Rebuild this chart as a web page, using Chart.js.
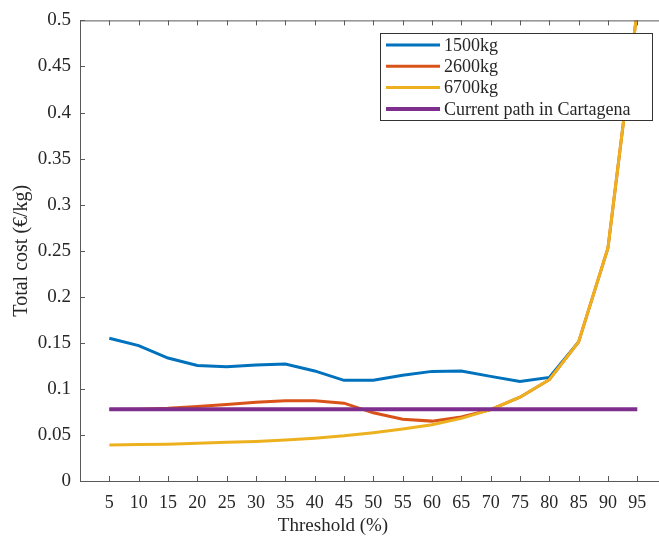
<!DOCTYPE html>
<html>
<head>
<meta charset="utf-8">
<script src="https://cdn.jsdelivr.net/npm/chart.js@4"></script>
<style>
	html, body { margin: 0; padding: 0; background: #fff; }
	#wrap { width: 659px; height: 536px; }
</style>
</head>
<body>
<div id="wrap"><canvas id="chartContainer" width="659" height="536"></canvas></div>
<script>
const thresholds = [5, 10, 15, 20, 25, 30, 35, 40, 45, 50, 55, 60, 65, 70, 75, 80, 85, 90, 95];
// 1500kg is hidden under the 6700kg line past 85%
const cost1500 = [0.155, 0.147, 0.1335, 0.1255, 0.124, 0.126, 0.127, 0.1195, 0.1093, 0.1095, 0.1147, 0.119, 0.1195, 0.1136, 0.108, 0.1125, 0.151, null, null];
const cost2600 = [0.0775, 0.078, 0.079, 0.081, 0.083, 0.0855, 0.087, 0.087, 0.0845, 0.074, 0.067, 0.065, 0.0695, 0.0775, 0.091, 0.110, 0.151, 0.253, 0.512];
const cost6700 = [0.039, 0.0395, 0.040, 0.041, 0.042, 0.043, 0.0445, 0.0465, 0.049, 0.0525, 0.0565, 0.061, 0.068, 0.0775, 0.091, 0.110, 0.151, 0.253, 0.512];
const currentPath = [0.078, 0.078, 0.078, 0.078, 0.078, 0.078, 0.078, 0.078, 0.078, 0.078, 0.078, 0.078, 0.078, 0.078, 0.078, 0.078, 0.078, 0.078, 0.078];
const yTicks = [0, 0.05, 0.1, 0.15, 0.2, 0.25, 0.3, 0.35, 0.4, 0.45, 0.5];
const xTitle = "Threshold (%)";
const yTitle = "Total cost (€/kg)";

const FONT = "'Liberation Serif', serif";
const AXIS = "#5a5a5a";
const TEXT = "#262626";

function toPoints(values) {
	return thresholds.map((t, i) => ({ x: t, y: values[i] }));
}

// MATLAB-like box: left, top and bottom lines with inward ticks, axis titles, legend
const boxPlugin = {
	id: "box",
	afterDatasetsDraw(chart) {
		const { ctx, chartArea: a, scales } = chart;
		ctx.save();
		ctx.strokeStyle = AXIS;
		ctx.lineWidth = 1;
		ctx.beginPath();
		ctx.moveTo(a.right + 1, a.top + 0.5);
		ctx.lineTo(a.left + 0.5, a.top + 0.5);
		ctx.lineTo(a.left + 0.5, a.bottom + 0.5);
		ctx.lineTo(a.right + 1, a.bottom + 0.5);
		const len = 5;
		thresholds.forEach((t) => {
			const x = Math.round(scales.x.getPixelForValue(t)) + 0.5;
			ctx.moveTo(x, a.bottom);
			ctx.lineTo(x, a.bottom - len);
			ctx.moveTo(x, a.top);
			ctx.lineTo(x, a.top + len);
		});
		yTicks.forEach((v) => {
			const y = Math.round(scales.y.getPixelForValue(v)) + 0.5;
			ctx.moveTo(a.left, y);
			ctx.lineTo(a.left + len, y);
		});
		ctx.stroke();

		// axis titles
		ctx.fillStyle = TEXT;
		ctx.textAlign = "center";
		ctx.textBaseline = "middle";
		ctx.font = "19px " + FONT;
		ctx.fillText(xTitle, 333, 526);
		ctx.save();
		ctx.translate(22, (a.top + a.bottom) / 2);
		ctx.rotate(-Math.PI / 2);
		ctx.font = "20px " + FONT;
		ctx.fillText(yTitle, 0, 0);
		ctx.restore();

		// legend box
		const lx = 380.5, ly = 33.5, lw = 272, lh = 87;
		ctx.fillStyle = "#fff";
		ctx.fillRect(lx, ly, lw, lh);
		ctx.strokeStyle = "#333";
		ctx.lineWidth = 1;
		ctx.strokeRect(lx, ly, lw, lh);
		ctx.font = "18px " + FONT;
		ctx.textAlign = "left";
		ctx.textBaseline = "middle";
		chart.data.datasets.forEach((ds, i) => {
			const y = 45 + i * 21.3;
			ctx.strokeStyle = ds.borderColor;
			ctx.lineWidth = ds.borderWidth;
			ctx.beginPath();
			ctx.moveTo(386, y);
			ctx.lineTo(440, y);
			ctx.stroke();
			ctx.fillStyle = TEXT;
			ctx.fillText(ds.label, 444, y + 1);
		});
		ctx.restore();
	},
};

const ctx = document.getElementById("chartContainer");

new Chart(ctx, {
	type: "line",
	data: {
		datasets: [
			{ label: "1500kg", data: toPoints(cost1500), borderColor: "#0072BD", borderWidth: 3, order: 4 },
			{ label: "2600kg", data: toPoints(cost2600), borderColor: "#D95319", borderWidth: 3, order: 3 },
			{ label: "6700kg", data: toPoints(cost6700), borderColor: "#EDB120", borderWidth: 3, order: 2 },
			{ label: "Current path in Cartagena", data: toPoints(currentPath), borderColor: "#7E2F8E", borderWidth: 4, order: 1 },
		],
	},
	options: {
		responsive: false,
		animation: false,
		elements: { point: { radius: 0 }, line: { tension: 0, borderCapStyle: "butt" } },
		layout: { padding: { top: 19, right: 0, left: 0, bottom: 0 } },
		plugins: { legend: { display: false }, tooltip: { enabled: false } },
		scales: {
			x: {
				type: "linear",
				min: 0,
				max: 98.7,
				afterBuildTicks: (axis) => {
					axis.ticks = thresholds.map((v) => ({ value: v }));
				},
				afterFit: (axis) => {
					axis.height = 55;
				},
				grid: { display: false, drawTicks: false },
				border: { display: false },
				ticks: {
					color: TEXT,
					font: { family: FONT, size: 18 },
					padding: 11,
					maxRotation: 0,
					autoSkip: false,
					callback: (v) => String(v),
				},
			},
			y: {
				min: 0,
				max: 0.5,
				afterBuildTicks: (axis) => {
					axis.ticks = yTicks.map((v) => ({ value: v }));
				},
				afterFit: (axis) => {
					axis.width = 80;
				},
				grid: { display: false, drawTicks: false },
				border: { display: false },
				ticks: {
					color: TEXT,
					font: { family: FONT, size: 19 },
					padding: 9,
					callback: (v) => String(+v.toFixed(2)),
				},
			},
		},
	},
	plugins: [boxPlugin],
});
</script>
</body>
</html>
